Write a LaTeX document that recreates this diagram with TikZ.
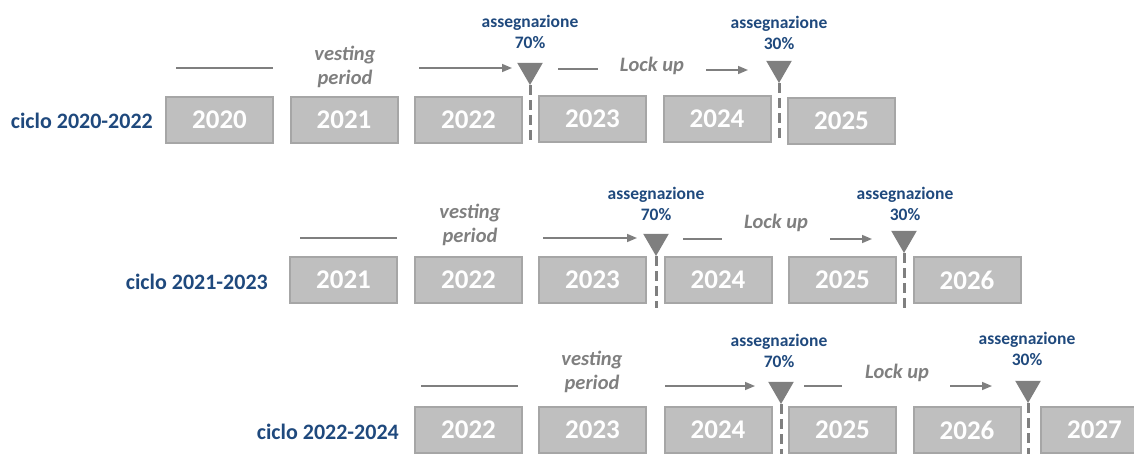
\documentclass[tikz,border=0pt]{standalone}
\usepackage{fontspec}
\setmainfont{Carlito}
\usetikzlibrary{arrows.meta,shapes.geometric}
\definecolor{bluelab}{HTML}{1F497D}
\definecolor{boxfill}{HTML}{BFBFBF}
\definecolor{boxline}{HTML}{A6A6A6}
\definecolor{greyline}{HTML}{7F7F7F}
\tikzset{
	yearbox/.style={draw=boxline,line width=2pt,fill=boxfill,minimum width=107pt,minimum height=46pt,inner sep=0pt,text=white,font=\fontsize{27}{27}\selectfont\bfseries},
	cyclelabel/.style={anchor=east,inner sep=0pt,text=bluelab,font=\fontsize{22}{22}\selectfont\bfseries},
	phase/.style={inner sep=0pt,align=center,text=greyline,font=\fontsize{20.5}{24}\selectfont\bfseries\itshape},
	assign/.style={inner sep=0pt,align=center,text=bluelab,font=\fontsize{17.5}{21}\selectfont\bfseries},
	marker/.style={regular polygon,regular polygon sides=3,shape border rotate=180,minimum size=29.5pt,inner sep=0pt,outer sep=0pt,fill=greyline,anchor=corner 1},
	tick/.style={draw=greyline,line width=3pt,dash pattern=on 10pt off 5pt},
	bar/.style={draw=greyline,line width=1.5pt},
	arr/.style={draw=greyline,line width=1.5pt,-{Triangle[length=10pt,width=8pt]}}
}
\begin{document}
\begin{tikzpicture}[x=1pt,y=-1pt]
		\useasboundingbox(0,0)rectangle(1134,453);
		\node[cyclelabel](c1)at(153,121){ciclo 2020-2022};
		\node[yearbox](y1a)at(219.5,120){2020};
		\node[yearbox](y1b)at(344,120){2021};
		\node[yearbox](y1c)at(468.5,120){2022};
		\node[yearbox](y1d)at(592.5,119){2023};
		\node[yearbox](y1e)at(717,119){2024};
		\node[yearbox](y1f)at(841.5,121){2025};
		\draw[bar](176,68)--(273,68);
		\node[phase](vp1)at(345,66.5){vesting\\period};
		\draw[arr](419,68)--(512,68);
		\node[marker](m1a)at(530,85){};
		\draw[tick](m1a.corner 1)--(530,143);
		\node[assign](a1a)at(530,32){assegnazione\\70\%};
		\draw[bar](558,69)--(598,69);
		\node[phase](lu1)at(652,66){Lock up};
		\draw[arr](706,70)--(748,70);
		\node[marker](m1b)at(779,83){};
		\draw[tick](m1b.corner 1)--(779,140);
		\node[assign](a1b)at(779,33){assegnazione\\30\%};
		\node[cyclelabel](c2)at(268,282){ciclo 2021-2023};
		\node[yearbox](y2a)at(343.5,280){2021};
		\node[yearbox](y2b)at(468.5,280){2022};
		\node[yearbox](y2c)at(592.5,280){2023};
		\node[yearbox](y2d)at(718,280){2024};
		\node[yearbox](y2e)at(842.5,280){2025};
		\node[yearbox](y2f)at(967,280){2026};
		\draw[bar](300,238)--(397,238);
		\node[phase](vp2)at(470,225){vesting\\period};
		\draw[arr](543,238)--(637,238);
		\node[marker](m2a)at(656,256){};
		\draw[tick](m2a.corner 1)--(656,308);
		\node[assign](a2a)at(656,204){assegnazione\\70\%};
		\draw[bar](683,239)--(722,239);
		\node[phase](lu2)at(776,223){Lock up};
		\draw[arr](830,239)--(872,239);
		\node[marker](m2b)at(904,253){};
		\draw[tick](m2b.corner 1)--(904,308);
		\node[assign](a2b)at(905,204){assegnazione\\30\%};
		\node[cyclelabel](c3)at(399,432){ciclo 2022-2024};
		\node[yearbox](y3a)at(468.5,430){2022};
		\node[yearbox](y3b)at(592.5,430){2023};
		\node[yearbox](y3c)at(718,430){2024};
		\node[yearbox](y3d)at(842.5,430){2025};
		\node[yearbox](y3e)at(967,430){2026};
		\node[yearbox](y3f)at(1094.5,430){2027};
		\draw[bar](421,386)--(518,386);
		\node[phase](vp3)at(592,371.5){vesting\\period};
		\draw[arr](665,386)--(755,386);
		\node[marker](m3a)at(781,404){};
		\draw[tick](m3a.corner 1)--(781,460);
		\node[assign](a3a)at(779,351){assegnazione\\70\%};
		\draw[bar](804,386)--(842,386);
		\node[phase](lu3)at(897,373){Lock up};
		\draw[arr](950,386)--(992,386);
		\node[marker](m3b)at(1028,403){};
		\draw[tick](m3b.corner 1)--(1028,460);
		\node[assign](a3b)at(1027,349){assegnazione\\30\%};
	\end{tikzpicture}
\end{document}
